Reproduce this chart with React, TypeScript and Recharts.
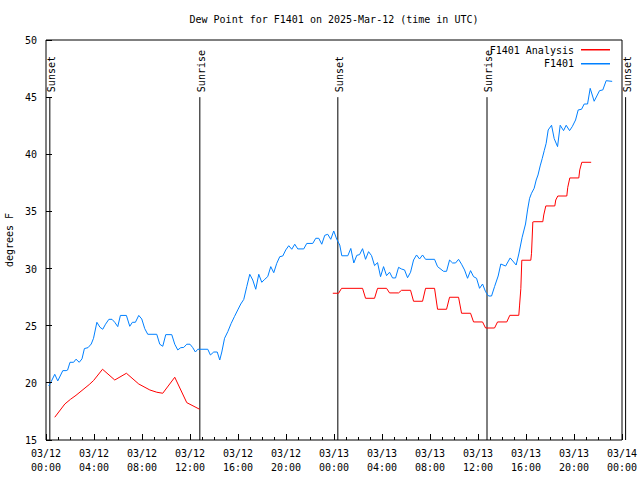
import { ComposedChart, Line, XAxis, YAxis, ReferenceLine } from 'recharts';

// hours since 03/12 00:00 UTC
const dewHours = [
  0.23, 0.43, 0.73, 0.98, 1.4, 1.68, 1.8, 2.0, 2.3, 2.5, 2.77, 3.0, 3.2, 3.5, 3.77, 3.96,
  4.24, 4.5, 4.73, 4.96, 5.24, 5.5, 5.73, 5.98, 6.2, 6.7, 6.98, 7.2, 7.45, 7.73, 7.98,
  8.23, 8.48, 9.23, 9.48, 9.73, 9.98, 10.48, 10.73, 10.98, 11.23, 11.48, 11.73, 12.0,
  12.23, 12.45, 12.65, 13.48, 13.7, 13.98, 14.27, 14.48, 14.65, 14.88, 15.15, 15.43, 15.7,
  15.98, 16.23, 16.48, 16.73, 16.98, 17.23, 17.48, 17.73, 17.98, 18.23, 18.48, 18.73,
  18.98, 19.23, 19.48, 19.73, 19.98, 20.23, 20.48, 20.73, 20.98, 21.48, 21.73, 22.23,
  22.48, 22.73, 22.98, 23.23, 23.48, 23.73, 23.98, 24.23, 24.48, 24.65, 25.15, 25.4,
  25.65, 25.9, 26.13, 26.38, 26.63, 26.88, 27.13, 27.38, 27.63, 27.88, 28.13, 28.38,
  28.63, 28.88, 29.13, 29.38, 29.63, 29.88, 30.13, 30.38, 30.63, 30.88, 31.13, 31.38,
  31.63, 32.38, 32.63, 33.13, 33.38, 33.63, 33.88, 34.13, 34.38, 34.63, 34.88, 35.13,
  35.38, 35.63, 35.88, 36.13, 36.38, 36.63, 36.88, 37.13, 37.38, 37.68, 37.9, 38.3,
  38.68, 38.9, 39.18, 39.4, 39.68, 39.96, 40.13, 40.3, 40.46, 40.68, 40.85, 41.0, 41.18,
  41.35, 41.52, 41.68, 41.85, 42.13, 42.35, 42.63, 42.85, 43.13, 43.35, 43.63, 43.85,
  44.13, 44.35, 44.63, 44.85, 45.13, 45.35, 45.68, 46.13, 46.4, 46.68, 47.18,
];
const dewValues = [
  19.73, 20.1, 20.75, 20.17, 21.07, 21.07, 21.12, 21.8, 21.8, 22.07, 21.8, 22.1, 23.0, 23.08,
  23.4, 23.9, 25.3, 24.86, 24.69, 25.13, 25.56, 25.56, 25.3, 24.92, 25.9, 25.9, 24.95, 25.3,
  25.3, 25.9, 25.59, 24.74, 24.25, 24.25, 23.38, 23.2, 24.22, 24.22, 23.38, 22.88, 23.08,
  23.1, 23.38, 23.38, 23.08, 22.7, 22.94, 22.94, 22.44, 22.7, 22.7, 22.0, 22.7, 23.9, 24.48,
  25.2, 25.79, 26.38, 26.9, 27.3, 28.42, 29.5, 29.0, 28.19, 29.5, 28.8, 29.06, 29.3, 30.17,
  29.64, 30.46, 31.04, 31.1, 31.63, 32.0, 31.69, 32.13, 31.72, 31.72, 32.2, 32.2, 32.65,
  32.65, 32.13, 32.91, 33.0, 32.56, 33.29, 32.56, 32.06, 31.12, 31.12, 31.76, 30.49, 31.16,
  31.22, 31.74, 30.81, 31.48, 31.13, 30.26, 30.52, 29.29, 30.17, 29.38, 29.68, 29.18, 29.18,
  30.11, 29.96, 29.88, 29.2, 29.68, 30.75, 31.19, 30.84, 31.19, 30.81, 30.81, 30.17, 29.76,
  29.76, 30.75, 30.49, 30.49, 30.81, 30.38, 29.88, 29.15, 29.82, 29.29, 29.15, 28.27, 28.65,
  27.98, 27.6, 27.6, 28.42, 29.35, 30.4, 30.22, 30.93, 30.66, 30.31, 31.28, 32.74, 33.9,
  35.13, 36.15, 36.59, 37.03, 37.75, 38.19, 38.98, 39.62, 40.32, 40.96, 42.13, 42.54, 41.37,
  40.67, 42.54, 42.07, 42.54, 42.07, 42.41, 43.0, 43.88, 43.94, 44.4, 44.4, 45.77, 44.64,
  45.57, 45.63, 46.44, 46.38,
];

const analysisHours = [
  0.73, 1.57, 2.04, 2.5, 3.6, 3.96, 4.71, 5.73, 6.7, 7.73, 8.65, 9.23, 9.73, 10.73, 11.73,
  12.8, 18.0, 23.9, 24.38, 24.63, 26.38, 26.63, 27.38, 27.63, 28.38, 28.63, 29.38, 29.63,
  30.38, 30.63, 31.38, 31.63, 32.38, 32.63, 33.38, 33.63, 34.38, 34.63, 35.38, 35.63, 36.38,
  36.63, 37.38, 37.63, 38.4, 38.65, 39.4, 39.46, 39.57, 39.65, 40.4, 40.46, 40.57, 40.65,
  41.4, 41.48, 41.65, 42.4, 42.48, 42.65, 43.4, 43.48, 43.65, 44.4, 44.48, 44.65, 45.43,
];
const analysisValues = [
  16.99, 18.15, 18.56, 18.91, 19.85, 20.2, 21.19, 20.25, 20.84, 19.9, 19.38, 19.18, 19.09,
  20.49, 18.27, 17.69, null, 27.84, 27.84, 28.27, 28.27, 27.4, 27.4, 28.27, 28.27, 27.87,
  27.87, 28.1, 28.1, 27.14, 27.14, 28.27, 28.27, 26.44, 26.44, 27.49, 27.49, 26.09, 26.09,
  25.33, 25.33, 24.8, 24.8, 25.33, 25.33, 25.91, 25.91, 26.73, 28.24, 30.73, 30.73, 31.34,
  34.08, 34.1, 34.1, 34.69, 35.48, 35.48, 36.0, 36.35, 36.35, 37.11, 37.93, 37.93, 38.63,
  39.3, 39.3,
];

const tickDates = ['03/12', '03/12', '03/12', '03/12', '03/12', '03/12', '03/13', '03/13', '03/13', '03/13', '03/13', '03/13', '03/14'];
const tickTimes = ['00:00', '04:00', '08:00', '12:00', '16:00', '20:00', '00:00', '04:00', '08:00', '12:00', '16:00', '20:00', '00:00'];
const degreeTicks = [15, 20, 25, 30, 35, 40, 45, 50];

const sunHours = [0.32, 12.82, 24.32, 36.75, 48.3];
const sunNames = ['Sunset', 'Sunrise', 'Sunset', 'Sunrise', 'Sunset'];

const seriesNames = ['F1401 Analysis', 'F1401'];
const seriesColors = ['#ff0000', '#0080ff'];

const FONT = '"DejaVu Sans Mono", monospace';

const hourTicks = Array.from({ length: 49 }, (_, i) => i);
const dewData = dewHours.map((h, i) => ({ h, v: dewValues[i] }));
const analysisData = analysisHours.map((h, i) => ({ h, v: analysisValues[i] }));

function BottomTick(props: any) {
  const { x, y, payload } = props;
  const h = payload.value;
  const major = h % 4 === 0;
  return (
    <g>
      <line x1={x} x2={x} y1={y} y2={y - (major ? 6 : 3)} stroke="#000" shapeRendering="crispEdges" />
      {major && (
        <text x={x} y={y + 17} textAnchor="middle" fontFamily={FONT} fontSize={10} fill="#000">
          {tickDates[h / 4]}
        </text>
      )}
      {major && (
        <text x={x} y={y + 31} textAnchor="middle" fontFamily={FONT} fontSize={10} fill="#000">
          {tickTimes[h / 4]}
        </text>
      )}
    </g>
  );
}

function TopTick(props: any) {
  const { x, y, payload } = props;
  const major = payload.value % 4 === 0;
  return <line x1={x} x2={x} y1={y} y2={y + (major ? 6 : 3)} stroke="#000" shapeRendering="crispEdges" />;
}

function LeftTick(props: any) {
  const { x, y, payload } = props;
  return (
    <g>
      <line x1={x} x2={x + 6} y1={y} y2={y} stroke="#000" shapeRendering="crispEdges" />
      <text x={x - 9} y={y + 4} textAnchor="end" fontFamily={FONT} fontSize={10} fill="#000">
        {payload.value}
      </text>
    </g>
  );
}

function RightTick(props: any) {
  const { x, y } = props;
  return <line x1={x} x2={x - 6} y1={y} y2={y} stroke="#000" shapeRendering="crispEdges" />;
}

function SunLabel(props: any) {
  const { viewBox, text } = props;
  const x = viewBox.x + 5;
  const y = viewBox.y - 5;
  return (
    <text x={x} y={y} transform={`rotate(-90 ${x} ${y})`} fontFamily={FONT} fontSize={10} fill="#000">
      {text}
    </text>
  );
}

export default function App() {
  return (
    <div style={{ position: 'absolute', left: 0, top: 0, width: 640, height: 480, background: '#fff' }}>
      <ComposedChart width={640} height={480} margin={{ top: 0, right: 0, bottom: 0, left: 0 }}>
        <XAxis
          dataKey="h"
          type="number"
          domain={[0, 48]}
          ticks={hourTicks}
          interval={0}
          height={40}
          tickSize={0}
          tickMargin={0}
          tickLine={false}
          axisLine={{ stroke: '#000' }}
          tick={<BottomTick />}
        />
        <XAxis
          xAxisId="top"
          orientation="top"
          dataKey="h"
          type="number"
          domain={[0, 48]}
          ticks={hourTicks}
          interval={0}
          height={40}
          tickSize={0}
          tickMargin={0}
          tickLine={false}
          axisLine={{ stroke: '#000' }}
          tick={<TopTick />}
        />
        <YAxis
          type="number"
          domain={[15, 50]}
          ticks={degreeTicks}
          interval={0}
          width={46}
          tickSize={0}
          tickMargin={0}
          tickLine={false}
          axisLine={{ stroke: '#000' }}
          tick={<LeftTick />}
        />
        <YAxis
          yAxisId="right"
          orientation="right"
          type="number"
          domain={[15, 50]}
          ticks={degreeTicks}
          interval={0}
          width={18}
          tickSize={0}
          tickMargin={0}
          tickLine={false}
          axisLine={{ stroke: '#000' }}
          tick={<RightTick />}
        />
        {sunHours.map((t, i) => (
          <ReferenceLine
            key={i}
            segment={[{ x: t, y: 15 }, { x: t, y: 45 }]}
            stroke="#000"
            strokeWidth={1}
            ifOverflow="visible"
            label={<SunLabel text={sunNames[i]} />}
          />
        ))}
        <Line
          data={analysisData}
          dataKey="v"
          name={seriesNames[0]}
          stroke={seriesColors[0]}
          strokeWidth={1}
          dot={false}
          activeDot={false}
          connectNulls={false}
          isAnimationActive={false}
        />
        <Line
          data={dewData}
          dataKey="v"
          name={seriesNames[1]}
          stroke={seriesColors[1]}
          strokeWidth={1}
          dot={false}
          activeDot={false}
          isAnimationActive={false}
        />
        <text x={334} y={23} textAnchor="middle" fontFamily={FONT} fontSize={10} fill="#000">
          Dew Point for F1401 on 2025-Mar-12 (time in UTC)
        </text>
        <text x={13} y={240} transform="rotate(-90 13 240)" textAnchor="middle" fontFamily={FONT} fontSize={10} fill="#000">
          degrees F
        </text>
        {seriesNames.map((name, i) => (
          <g key={name}>
            <text x={574} y={54 + i * 13} textAnchor="end" fontFamily={FONT} fontSize={10} fill="#000">
              {name}
            </text>
            <rect x={581} y={49 + i * 14} width={29} height={1.5} fill={seriesColors[i]} />
          </g>
        ))}
      </ComposedChart>
    </div>
  );
}
